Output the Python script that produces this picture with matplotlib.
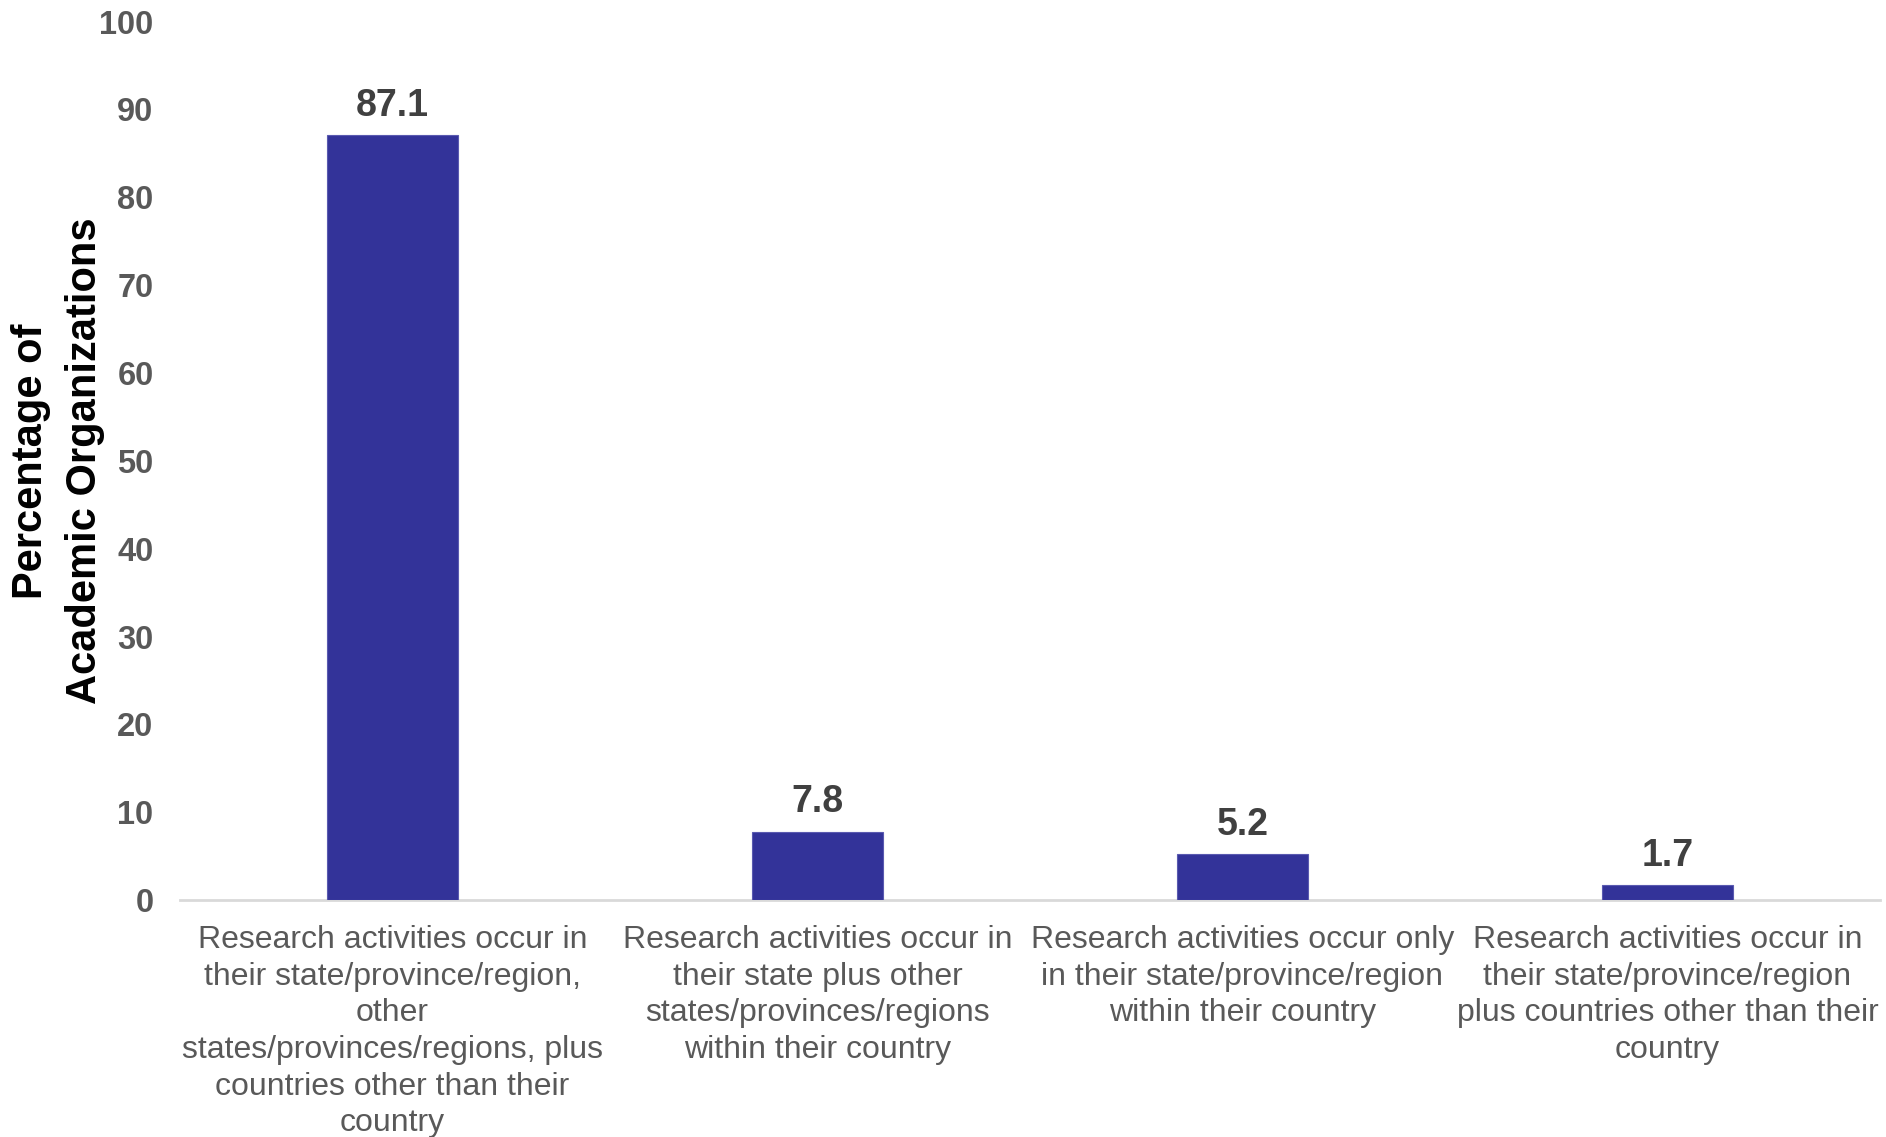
import matplotlib
matplotlib.use("Agg")
import matplotlib.pyplot as plt

plt.rcParams["font.family"] = ["Liberation Sans", "DejaVu Sans"]

categories = [
    "Research activities occur in\ntheir state/province/region,\nother\nstates/provinces/regions, plus\ncountries other than their\ncountry",
    "Research activities occur in\ntheir state plus other\nstates/provinces/regions\nwithin their country",
    "Research activities occur only\nin their state/province/region\nwithin their country",
    "Research activities occur in\ntheir state/province/region\nplus countries other than their\ncountry",
]
values = [87.1, 7.8, 5.2, 1.7]
yticks = list(range(0, 101, 10))

BAR_COLOR = "#333399"
TICK_COLOR = "#595959"
LABEL_COLOR = "#404040"

fig = plt.figure(figsize=(18.86, 11.37), dpi=100)
ax = fig.add_axes([0.0954, 0.2084, 0.9014, 0.7726])

x = list(range(len(values)))
ax.bar(x, values, width=0.31, color=BAR_COLOR, edgecolor="#5a5ab0", linewidth=0.8, zorder=3)

for xi, v in zip(x, values):
    ax.annotate(f"{v:.1f}", xy=(xi, v), xytext=(0, 8), textcoords="offset points",
                ha="center", va="bottom", fontsize=27, fontweight="bold", color=LABEL_COLOR)

ax.set_xlim(-0.5, len(values) - 0.5)
ax.set_ylim(0, 100)
ax.set_yticks(yticks)
ax.set_yticklabels([str(t) for t in yticks], fontsize=23.5, fontweight="bold", color=TICK_COLOR)
ax.set_xticks(x)
ax.set_xticklabels(categories, fontsize=23, color=TICK_COLOR, linespacing=1.29, va="top")

ax.tick_params(axis="y", length=0, pad=19)
ax.tick_params(axis="x", length=0, pad=18)

for side in ["top", "right", "left"]:
    ax.spines[side].set_visible(False)
ax.spines["bottom"].set_color("#d9d9d9")
ax.spines["bottom"].set_linewidth(2)

ax.set_ylabel("Percentage of\nAcademic Organizations", fontsize=30, fontweight="bold",
              color="black", linespacing=1.45)
ax.yaxis.set_label_coords(-0.044, 0.5)

fig.savefig("out.png", dpi=100)
